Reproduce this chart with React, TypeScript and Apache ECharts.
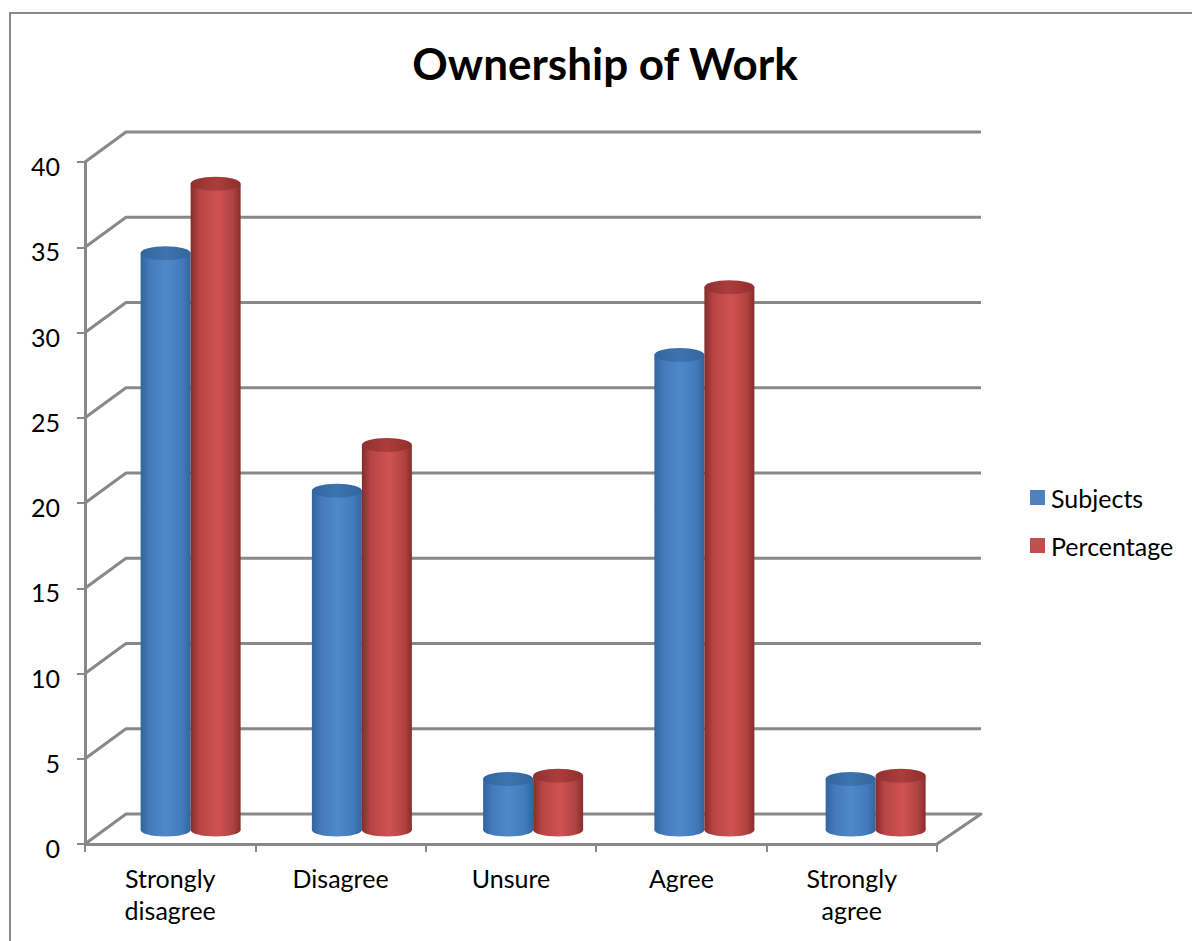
import React, { useEffect, useRef } from "react";
import * as echarts from "echarts";

const categories = ["Strongly\ndisagree", "Disagree", "Unsure", "Agree", "Strongly\nagree"];
const subjects = [34, 20, 3, 28, 3];
const percentage = [38.1, 22.7, 3.2, 32, 3.2];
const wallTicks = [0, 5, 10, 15, 20, 25, 30, 35, 40];

const FONT = "Lato, Carlito, 'Open Sans', sans-serif";
const AXIS_GRAY = "#888888";

// Layout of the pseudo-3D box: front plane from the grid, back wall shifted by the depth offset.
const GRID = { left: 85, top: 162, width: 852, height: 682 };
const DEPTH_X = 41;
const DEPTH_Y = -30;
const BAR_WIDTH = 50;
const CAP_RY = 7;
// Cylinders stand mid-way into the box, where the perspective shortens the height
// and slightly widens the spacing between the groups.
const BAR_SHIFT_X = 20;
const BAR_BASE_SHIFT = -14;
const BAR_SCALE = 0.995;
const BAR_SPREAD = 1.005;

const blueSide = [
  [0, "#33659e"],
  [0.18, "#427abb"],
  [0.5, "#5089cb"],
  [0.82, "#437cbc"],
  [1, "#33659e"],
];
const redSide = [
  [0, "#832d2c"],
  [0.18, "#b74543"],
  [0.55, "#cf5352"],
  [0.85, "#b04240"],
  [1, "#862e2d"],
];
const blueCap = [
  [0, "#33659e"],
  [0.5, "#3d74af"],
  [1, "#33659e"],
];
const redCap = [
  [0, "#8f302f"],
  [0.5, "#ad3d3b"],
  [1, "#8f302f"],
];

const horizontal = (stops: (string | number)[][]) =>
  new echarts.graphic.LinearGradient(
    0,
    0,
    1,
    0,
    stops.map(([offset, color]) => ({ offset: offset as number, color: color as string }))
  );

function cylinder(side: (string | number)[][], cap: (string | number)[][], barIndex: number) {
  return (params: any, api: any) => {
    const origin = api.coord([api.value(0), 0]);
    const top = api.coord([api.value(0), api.value(1)]);
    const spread = GRID.left + (origin[0] - GRID.left) * BAR_SPREAD;
    const cx = spread + BAR_SHIFT_X + (barIndex === 0 ? -BAR_WIDTH / 2 : BAR_WIDTH / 2);
    const baseY = origin[1] + BAR_BASE_SHIFT;
    const topY = baseY - (origin[1] - top[1]) * BAR_SCALE;
    const fill = horizontal(side);
    return {
      type: "group",
      children: [
        {
          type: "ellipse",
          shape: { cx, cy: baseY, rx: BAR_WIDTH / 2, ry: CAP_RY - 0.5 },
          style: { fill },
        },
        {
          type: "rect",
          shape: { x: cx - BAR_WIDTH / 2, y: topY, width: BAR_WIDTH, height: baseY - topY },
          style: { fill },
        },
        {
          type: "ellipse",
          shape: { cx, cy: topY, rx: BAR_WIDTH / 2, ry: CAP_RY },
          style: { fill: horizontal(cap) },
        },
      ],
    };
  };
}

// Side wall, back wall and floor edge, one polyline per axis tick.
function wallLine(params: any, api: any) {
  const value = api.value(0);
  const size = api.size([1, 0]);
  const front = api.coord([0, value]);
  const left = front[0] - size[0] / 2;
  const right = left + size[0] * categories.length;
  const points = [
    [left, front[1]],
    [left + DEPTH_X, front[1] + DEPTH_Y],
    [right + DEPTH_X + 3, front[1] + DEPTH_Y],
  ];
  if (value === 0) points.push([right, front[1]]);
  return {
    type: "polyline",
    shape: { points },
    style: { fill: "none", stroke: AXIS_GRAY, lineWidth: 3, lineJoin: "round" },
  };
}

export default function App() {
  const ref = useRef<HTMLDivElement>(null);

  useEffect(() => {
    const chart = echarts.init(ref.current!, null, { renderer: "svg" });
    chart.setOption({
      animation: false,
      backgroundColor: "#ffffff",
      title: {
        text: "Ownership of Work",
        left: 600,
        top: 36,
        textAlign: "center",
        textStyle: { fontFamily: FONT, fontSize: 44, fontWeight: "bold", color: "#000000" },
      },
      legend: {
        left: 1025,
        top: 480,
        orient: "vertical",
        icon: "rect",
        itemWidth: 15,
        itemHeight: 15,
        itemGap: 23,
        data: ["Subjects", "Percentage"],
        textStyle: { fontFamily: FONT, fontSize: 25, color: "#000000", padding: [0, 0, 4, 1] },
      },
      grid: { ...GRID, containLabel: false },
      xAxis: {
        type: "category",
        data: categories,
        axisLine: { lineStyle: { color: AXIS_GRAY, width: 3 } },
        axisTick: { show: true, alignWithLabel: false, length: 8, lineStyle: { color: AXIS_GRAY, width: 2 } },
        axisLabel: { fontFamily: FONT, fontSize: 25, color: "#000000", margin: 18, lineHeight: 32 },
      },
      yAxis: {
        type: "value",
        min: 0,
        max: 40,
        interval: 5,
        splitLine: { show: false },
        axisLine: { show: true, lineStyle: { color: AXIS_GRAY, width: 3 } },
        axisTick: { show: true, length: 8, lineStyle: { color: AXIS_GRAY, width: 2 } },
        axisLabel: {
          fontFamily: FONT,
          fontSize: 25,
          color: "#000000",
          margin: 25,
          verticalAlign: "top",
          lineHeight: 8,
        },
      },
      series: [
        {
          type: "custom",
          name: "wall",
          coordinateSystem: "cartesian2d",
          clip: false,
          silent: true,
          encode: { y: 0 },
          data: wallTicks.map((t) => [t]),
          renderItem: wallLine,
          z: 1,
        },
        {
          type: "custom",
          name: "Subjects",
          itemStyle: { color: "#4f81bd" },
          coordinateSystem: "cartesian2d",
          encode: { x: 0, y: 1 },
          clip: false,
          data: subjects.map((v, i) => [i, v]),
          renderItem: cylinder(blueSide, blueCap, 0),
          z: 3,
        },
        {
          type: "custom",
          name: "Percentage",
          itemStyle: { color: "#c0504d" },
          coordinateSystem: "cartesian2d",
          encode: { x: 0, y: 1 },
          clip: false,
          data: percentage.map((v, i) => [i, v]),
          renderItem: cylinder(redSide, redCap, 1),
          z: 4,
        },
      ],
      graphic: [
        {
          type: "polyline",
          shape: { points: [[10, 941], [10, 13], [1192, 13]] },
          style: { fill: "none", stroke: "#888888", lineWidth: 2 },
          silent: true,
        },
      ],
    });
    return () => chart.dispose();
  }, []);

  return <div ref={ref} style={{ position: "absolute", left: 0, top: 0, width: 1192, height: 941 }} />;
}
